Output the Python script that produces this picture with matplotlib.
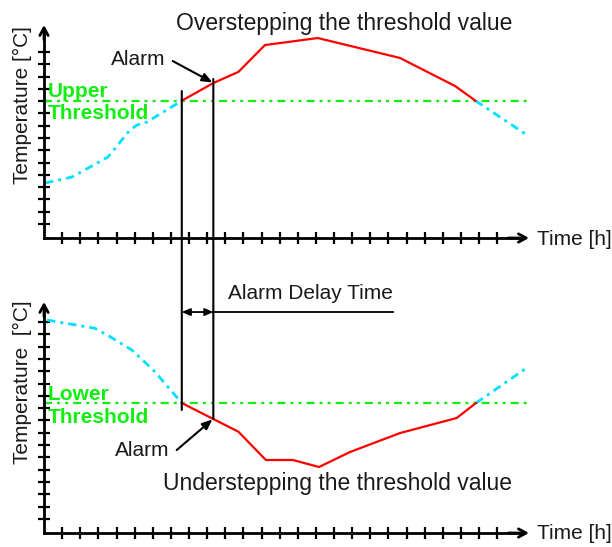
import matplotlib
matplotlib.use("Agg")
import matplotlib.pyplot as plt
import numpy as np
from matplotlib.patches import ConnectionPatch

plt.rcParams['font.family'] = ['Liberation Sans', 'DejaVu Sans']
plt.rcParams['lines.scale_dashes'] = False

# ---- data (time in ticks, temperature in ticks) ----
top_rise_x = [0.06, 1.54, 3.53, 4.74, 5.13, 5.68, 7.6]
top_rise_y = [4.48, 4.96, 6.59, 8.79, 9.19, 9.44, 11.17]
top_over_x = [7.6, 9.34, 10.72, 12.19, 15.1, 19.63, 22.67, 23.8]
top_over_y = [11.17, 12.61, 13.51, 15.7, 16.27, 14.65, 12.37, 11.17]
top_fall_x = [23.8, 26.64]
top_fall_y = [11.17, 8.38]
upper_threshold = 11.17

bot_fall_x = [0.17, 2.81, 3.64, 4.84, 6.03, 7.6]
bot_fall_y = [17.3, 16.63, 15.95, 14.87, 13.24, 10.56]
bot_under_x = [7.6, 9.34, 10.72, 12.24, 13.73, 15.17, 16.88, 19.64, 22.76, 23.83]
bot_under_y = [10.56, 9.26, 8.23, 5.93, 5.93, 5.36, 6.58, 8.12, 9.34, 10.56]
bot_rise_x = [23.83, 26.59]
bot_rise_y = [10.56, 13.38]
lower_threshold = 10.56

t_cross = 7.6
t_alarm = 9.34

x_ticks = np.arange(1, 26)
top_y_ticks = 1.14 + np.arange(15)
bot_y_ticks = 1.14 + np.arange(17)

RED = '#ff0000'
CYAN = '#00e1ff'
GREEN = '#11ee11'
dash_cyan = (0, (6, 3.6, 2.2, 3.6))
dash_green = (0, (5.8, 3.6, 2.2, 3.6, 2.2, 3.6))

fig = plt.figure(figsize=(6.12, 5.47), dpi=100)
ax_top = fig.add_axes([0, 277 / 547, 1, 270 / 547])
ax_bot = fig.add_axes([0, 0, 1, 277 / 547])
ax_top.set_xlim(-2.427, 31.33)
ax_top.set_ylim(-2.604, 19.365)
ax_bot.set_xlim(-2.427, 31.33)
ax_bot.set_ylim(-1.137, 21.365)


def style_axes(ax, yticks, ytop):
    ax.patch.set_alpha(0)
    for s in ['top', 'right']:
        ax.spines[s].set_visible(False)
    ax.spines['left'].set_position(('data', 0))
    ax.spines['bottom'].set_position(('data', 0))
    ax.spines['left'].set_bounds(0, ytop - 0.4)
    ax.spines['bottom'].set_bounds(0, 26.3)
    for s in ['left', 'bottom']:
        ax.spines[s].set_linewidth(2)
    ax.set_xticks(x_ticks)
    ax.set_yticks(yticks)
    ax.tick_params(direction='inout', length=9, width=1.6, labelleft=False,
                   labelbottom=False, color='black')
    ax.annotate('', xy=(26.75, 0), xytext=(25.6, 0),
                arrowprops=dict(arrowstyle='->,head_length=0.55,head_width=0.3',
                                lw=2, color='black', shrinkA=0, shrinkB=0))
    ax.annotate('', xy=(0, ytop), xytext=(0, ytop - 1.2),
                arrowprops=dict(arrowstyle='->,head_length=0.55,head_width=0.3',
                                lw=2, color='black', shrinkA=0, shrinkB=0))


style_axes(ax_top, top_y_ticks, 17.33)
style_axes(ax_bot, bot_y_ticks, 18.77)

# thresholds
ax_top.plot([0, 26.64], [upper_threshold, upper_threshold], color=GREEN, lw=1.6,
            linestyle=dash_green)
ax_bot.plot([0, 26.64], [lower_threshold, lower_threshold], color=GREEN, lw=1.6,
            linestyle=dash_green)

# curves
ax_top.plot(top_rise_x, top_rise_y, color=CYAN, lw=2, linestyle=dash_cyan)
ax_top.plot(top_fall_x, top_fall_y, color=CYAN, lw=2, linestyle=dash_cyan)
ax_top.plot(top_over_x, top_over_y, color=RED, lw=1.6)
ax_bot.plot(bot_fall_x, bot_fall_y, color=CYAN, lw=2, linestyle=dash_cyan)
ax_bot.plot(bot_rise_x, bot_rise_y, color=CYAN, lw=2, linestyle=dash_cyan)
ax_bot.plot(bot_under_x, bot_under_y, color=RED, lw=1.6)

# vertical connecting lines
for xa, ya, yb in [(t_cross, 11.96, 9.99), (t_alarm, 12.94, 9.26)]:
    con = ConnectionPatch(xyA=(xa, ya), coordsA=ax_top.transData,
                          xyB=(xa, yb), coordsB=ax_bot.transData,
                          color='black', lw=1.5)
    fig.add_artist(con)

# alarm delay
ax_bot.annotate('', xy=(t_cross, 17.95), xytext=(t_alarm, 17.95),
                arrowprops=dict(arrowstyle='<|-|>,head_length=0.5,head_width=0.22',
                                lw=1.3, color='black', shrinkA=0, shrinkB=0))
ax_bot.plot([t_alarm, 19.25], [17.95, 17.95], color='black', lw=1.3)
ax_bot.text(10.15, 19.0, 'Alarm Delay Time', fontsize=15, ha='left',
            va='baseline', color='#1a1a1a')

# texts
tkw = dict(fontsize=15, color='#1a1a1a')
ax_top.text(7.28, 16.92, 'Overstepping the threshold value', fontsize=16.5,
            ha='left', va='baseline', color='#1a1a1a')
ax_bot.text(6.56, 3.49, 'Understepping the threshold value', fontsize=16.5,
            ha='left', va='baseline', color='#1a1a1a')
ax_top.text(3.7, 14.08, 'Alarm', ha='left', va='baseline', **tkw)
ax_bot.text(3.92, 6.26, 'Alarm', ha='left', va='baseline', **tkw)
ax_top.annotate('', xy=(t_alarm - 0.05, 12.66), xytext=(7.1, 14.4),
                arrowprops=dict(arrowstyle='-|>,head_length=0.6,head_width=0.25',
                                lw=1.5, color='black', shrinkA=0, shrinkB=0))
ax_bot.annotate('', xy=(t_alarm - 0.05, 9.22), xytext=(7.32, 6.74),
                arrowprops=dict(arrowstyle='-|>,head_length=0.6,head_width=0.25',
                                lw=1.5, color='black', shrinkA=0, shrinkB=0))

ax_top.text(27.19, -0.12, 'Time [h]', ha='left', va='center', **tkw)
ax_bot.text(27.19, 0.0, 'Time [h]', ha='left', va='center', **tkw)

ax_top.text(-1.21, 10.82, 'Temperature [°C]', rotation=90, ha='center',
            va='center', **tkw)
ax_bot.text(-1.21, 12.27, 'Temperature  [°C]', rotation=90, ha='center',
            va='center', **tkw)

gkw = dict(fontsize=15, color=GREEN, fontweight='bold', ha='left', va='baseline')
ax_top.text(0.22, 11.47, 'Upper', **gkw)
ax_top.text(0.22, 9.68, 'Threshold', **gkw)
ax_bot.text(0.22, 10.8, 'Lower', **gkw)
ax_bot.text(0.22, 8.94, 'Threshold', **gkw)

fig.savefig('out.png', dpi=100)
